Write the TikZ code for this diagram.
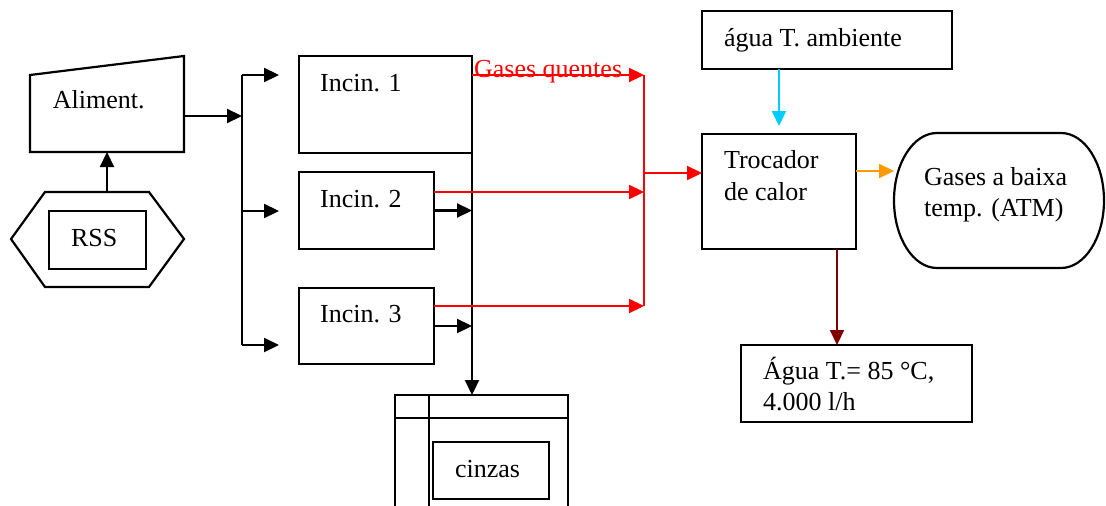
\documentclass[tikz,border=0pt]{standalone}
\usepackage{fontspec}
\setmainfont{Liberation Serif}
\usetikzlibrary{arrows.meta}
\definecolor{hotgas}{RGB}{255,0,0}
\definecolor{coldwater}{RGB}{0,204,255}
\definecolor{coolgas}{RGB}{255,153,0}
\definecolor{hotwater}{RGB}{128,0,0}
\begin{document}
\begin{tikzpicture}[x=1pt,y=-1pt,
  line width=2.2pt,
  tri/.style={-{Triangle[length=15pt,width=14pt]}},
  box/.style={draw, line width=2.2pt, inner sep=0pt, outer sep=0pt},
  lbl/.style={inner sep=0pt, anchor=base west, font=\fontsize{26}{31}\selectfont},
  hot/.style={draw=hotgas},
]
\useasboundingbox (0,0) rectangle (1106,506);

% ---- feed: RSS hexagon and feeder ----
\draw (11,239) -- (45,192) -- (149,192) -- (184,239) -- (149,287) -- (45,287) -- cycle;
\node[box, minimum width=97pt, minimum height=58pt] (rss) at (97.5,240) {};
\node[lbl] (rss-t) at (70,246.7) {RSS};
\draw (30,75) -- (184,56) -- (184,152) -- (30,152) -- cycle;
\node[lbl] (alim-t) at (51.7,108) {Aliment.};
\coordinate (hex-top) at (107,192);
\coordinate (alim-bot) at (107,152);
\coordinate (alim-out) at (184,116);
\draw[tri] (hex-top) -- (alim-bot);

% ---- distribution bus ----
\coordinate (fb1) at (242,75);
\coordinate (fbm) at (242,116);
\coordinate (fb2) at (242,211);
\coordinate (fb3) at (242,345);
\draw[tri] (alim-out) -- (fbm);
\draw (fb1) -- (fb3);

% ---- incinerators ----
\node[box, minimum width=173pt, minimum height=97pt] (inc1) at (385.5,104.5) {};
\node[box, minimum width=135pt, minimum height=77pt] (inc2) at (366.5,210.5) {};
\node[box, minimum width=135pt, minimum height=76pt] (inc3) at (366.5,326) {};
\node[lbl] (inc1-t) at (319,91.7) {Incin. 1};
\node[lbl] (inc2-t) at (319,207.7) {Incin. 2};
\node[lbl] (inc3-t) at (319,322.7) {Incin. 3};
\draw[tri, shorten >=20pt] (fb1) -- (inc1.west |- fb1);
\draw[tri, shorten >=20pt] (fb2) -- (inc2.west |- fb2);
\draw[tri, shorten >=20pt] (fb3) -- (inc3.west |- fb3);

% ---- ash collection ----
\coordinate (ash-in) at (472,395);
\draw (395,520) -- (395,395) -- (568,395) -- (568,520);
\draw (395,418) -- (568,418);
\draw (429,395) -- (429,520);
\node[box, minimum width=116pt, minimum height=57pt] (cinzas) at (491,470.5) {};
\node[lbl] (cinzas-t) at (454,477.3) {cinzas};
\draw[tri] (inc1.south east) -- (ash-in);
\draw[tri] (inc2.east) -- (inc2.east -| ash-in);
\draw[tri] (inc3.east) -- (inc3.east -| ash-in);

% ---- hot gas manifold ----
\node[lbl, text=hotgas] (gq-t) at (473,77) {Gases quentes};
\coordinate (g1) at (644,75);
\coordinate (gm) at (644,173);
\coordinate (g2) at (644,192);
\coordinate (g3) at (644,306);
\draw[hot, tri] (inc1.east |- g1) -- (g1);
\draw[hot, tri] (inc2.east |- g2) -- (g2);
\draw[hot, tri] (inc3.east |- g3) -- (g3);
\draw[hot] (g1) -- (g3);

% ---- heat exchanger ----
\node[box, minimum width=154pt, minimum height=115pt] (troc) at (779,191.5) {};
\node[lbl] (troc-t1) at (723,168.3) {Trocador};
\node[lbl] (troc-t2) at (723,200) {de calor};
\draw[hot, tri] (gm) -- (troc.west |- gm);

\node[box, minimum width=250pt, minimum height=58pt] (agua) at (827,40) {};
\node[lbl] (agua-t) at (723,46.7) {água T. ambiente};
\coordinate (cold-end) at (779,126);
\draw[draw=coldwater, tri] (agua.south -| cold-end) -- (cold-end);

% ---- exhaust to atmosphere ----
\draw (937,133) -- (1061,133)
  .. controls (1084.7,133) and (1104,163.2) .. (1104,200.5)
  .. controls (1104,237.8) and (1084.7,268) .. (1061,268)
  -- (937,268)
  .. controls (913.3,268) and (894,237.8) .. (894,200.5)
  .. controls (894,163.2) and (913.3,133) .. (937,133) -- cycle;
\node[lbl] (atm-t1) at (923,185) {Gases a baixa};
\node[lbl] (atm-t2) at (923,216.7) {temp. (ATM)};
\coordinate (exh-end) at (894,171);
\draw[draw=coolgas, tri] (troc.east |- exh-end) -- (exh-end);

% ---- hot water outlet ----
\node[box, minimum width=231pt, minimum height=77pt] (quente) at (856.5,383.5) {};
\node[lbl] (quente-t1) at (762,379.3) {Água T.= 85 °C,};
\node[lbl] (quente-t2) at (762,410.7) {4.000 l/h};
\coordinate (hw) at (837,300);
\draw[draw=hotwater, tri] (troc.south -| hw) -- (quente.north -| hw);
\end{tikzpicture}
\end{document}
